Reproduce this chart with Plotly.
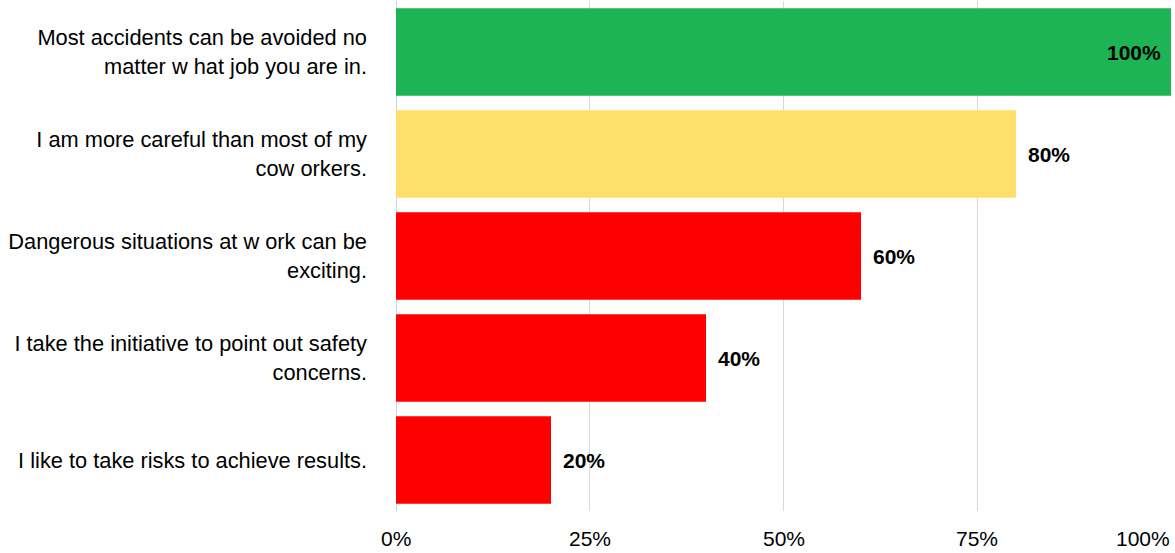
import plotly.graph_objects as go

# Survey statements (top to bottom) and share of agreement
statements = [
    "Most accidents can be avoided no<br>matter w hat job you are in.",
    "I am more careful than most of my<br>cow orkers.",
    "Dangerous situations at w ork can be<br>exciting.",
    "I take the initiative to point out safety<br>concerns.",
    "I like to take risks to achieve results.",
]
shares = [100, 80, 60, 40, 20]
bar_colors = ["#1db455", "#ffdf6b", "#ff0000", "#ff0000", "#ff0000"]

x_ticks = [0, 25, 50, 75, 100]
x_tick_text = ["0%", "25%", "50%", "75%", "100%"]

FONT = "Liberation Sans, Arial, sans-serif"

fig = go.Figure(
    go.Bar(
        x=shares,
        y=statements,
        orientation="h",
        marker=dict(color=bar_colors, line=dict(width=0)),
        hoverinfo="skip",
    )
)

# Value labels: inside the full-width bar, just past the end for the rest
for val, cat in zip(shares, statements):
    inside = val >= 100
    fig.add_annotation(
        x=val,
        y=cat,
        xref="x",
        yref="y",
        text=f"<b>{val}%</b>",
        showarrow=False,
        xanchor="right" if inside else "left",
        xshift=-8 if inside else 10,
        font=dict(family=FONT, size=21, color="#000000"),
    )

# Percentage tick labels under the axis; the last one is kept inside the page
for i, (tv, tt) in enumerate(zip(x_ticks, x_tick_text)):
    last = i == len(x_ticks) - 1
    fig.add_annotation(
        x=tv,
        y=0,
        xref="x",
        yref="paper",
        text=tt,
        showarrow=False,
        xanchor="right" if last else "center",
        yanchor="middle",
        yshift=-27,
        borderpad=0,
        font=dict(family=FONT, size=21, color="#000000"),
    )

fig.update_layout(
    width=1175,
    height=553,
    margin=dict(l=396, r=4, t=1, b=42),
    paper_bgcolor="white",
    plot_bgcolor="white",
    showlegend=False,
    bargap=0.14,
    font=dict(family=FONT, size=21, color="#000000"),
)

fig.update_xaxes(
    range=[0, 100],
    tickvals=x_ticks,
    showticklabels=False,
    showgrid=True,
    gridcolor="#d9d9d9",
    gridwidth=1,
    zeroline=True,
    zerolinecolor="#c9d3e3",
    zerolinewidth=1,
    showline=False,
    ticks="",
    automargin=False,
    fixedrange=True,
)

fig.update_yaxes(
    categoryorder="array",
    categoryarray=statements[::-1],
    showgrid=False,
    zeroline=False,
    showline=False,
    ticks="",
    ticklabelstandoff=28,
    tickfont=dict(size=21.8),
    automargin=False,
    fixedrange=True,
)

fig.write_html("out.html")
